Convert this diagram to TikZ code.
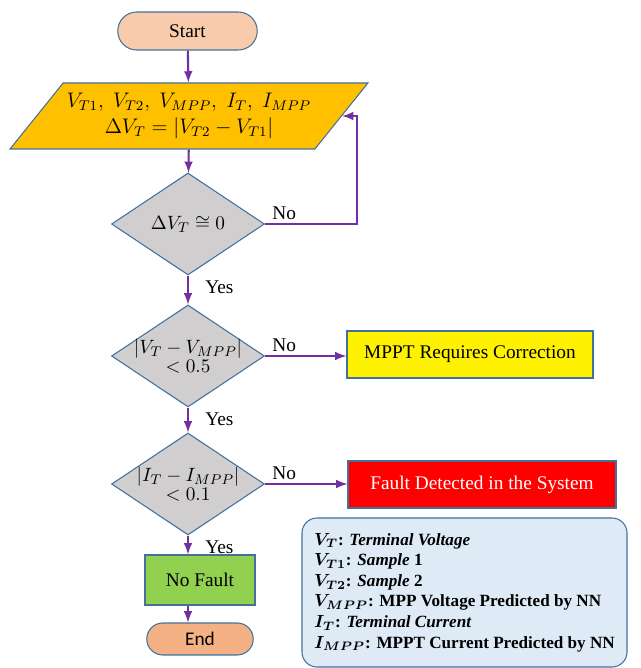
\documentclass[tikz,border=0pt]{standalone}
\usepackage{fontspec}
\setmainfont{Liberation Serif}
\newfontfamily\endfont{Carlito}
\usepackage{tikz}
\usetikzlibrary{positioning}
\usetikzlibrary{arrows,shapes,calc}
\usepackage{xcolor}

\definecolor{edgeblue}{HTML}{41719C}
\definecolor{flowpurple}{HTML}{7030A0}
\definecolor{startfill}{HTML}{F8CBAD}
\definecolor{endfill}{HTML}{F4B183}
\definecolor{inputfill}{HTML}{FFC000}
\definecolor{decfill}{HTML}{D0CECE}
\definecolor{keyfill}{HTML}{DEEBF7}
\definecolor{okgreen}{HTML}{92D050}

\tikzset{
  base/.style={draw=edgeblue, line width=0.6pt, inner sep=1pt, font=\fontsize{11}{13}\selectfont},
  term/.style={base, rounded rectangle, minimum width=2.86cm},
  decision/.style={base, diamond, align=center, inner sep=-3pt, shape aspect=1.5,
    minimum width=3.06cm, minimum height=2.04cm},
  result/.style={base, rectangle, minimum height=0.94cm},
  flow/.style={draw=flowpurple, line width=1.2pt, -latex},
  lbl/.style={inner sep=0pt, font=\fontsize{11}{13}\selectfont}
}

\begin{document}
\begin{tikzpicture}

\useasboundingbox (0,0) rectangle (12.82,13.36);

\node[term, fill=startfill, minimum height=0.76cm] (start) at (3.75,12.74) {Start};

\node[base, trapezium, trapezium left angle=43, trapezium right angle=137,
  trapezium stretches=true, fill=inputfill, align=center,
  minimum width=7.18cm, minimum height=1.32cm,
  font=\fontsize{12}{14.5}\selectfont] (input) at (3.78,11.04)
  {$V_{T1},\; V_{T2},\; V_{MPP},\; I_T,\; I_{MPP}$\\ $\Delta V_T = |V_{T2} - V_{T1}|$};

\node[decision, fill=decfill] (d1) at (3.76,8.88) {$\Delta V_T \cong 0$};
\node[decision, fill=decfill] (d2) at (3.76,6.24) {$|V_T - V_{MPP}|$\\[-2pt] $< 0.5$};
\node[decision, fill=decfill] (d3) at (3.76,3.68) {$|I_T - I_{MPP}|$\\[-2pt] $< 0.1$};

\node[result, fill=yellow, minimum width=4.92cm] (mppt) at (9.40,6.27) {MPPT Requires Correction};
\node[result, fill=red, text=white, minimum width=5.36cm] (fault) at (9.64,3.67) {Fault Detected in the System};
\node[result, fill=okgreen, minimum width=2.2cm, minimum height=1.0cm] (nofault) at (4.00,1.76) {No Fault};
\node[term, fill=endfill, minimum width=2.2cm, minimum height=0.64cm, font=\endfont\fontsize{11}{13}\selectfont] (finish) at (4.00,0.58) {End};

\node[draw=edgeblue, line width=0.6pt, fill=keyfill, rounded corners=0.3cm,
  minimum width=6.5cm, minimum height=2.98cm, align=left,
  font=\bfseries\boldmath\fontsize{9.75}{11.7}\selectfont] (key) at (9.29,1.51)
  {$V_T$: \textit{Terminal Voltage}\\
   $V_{T1}$: \textit{Sample} 1\\
   $V_{T2}$: \textit{Sample} 2\\
   $V_{MPP}$: MPP Voltage Predicted by NN\\
   $I_T$: \textit{Terminal Current}\\
   $I_{MPP}$: MPPT Current Predicted by NN};

% main line
\draw[flow] (start) -- (input);
\draw[flow] (input) -- (d1);
\draw[flow] (d1) -- (d2);
\draw[flow] (d2) -- (d3);
\draw[flow] (d3.south) -- (d3.south |- nofault.north);
\draw[flow] (d3.south |- nofault.south) -- (d3.south |- finish.north);

% branches
\draw[flow] (d1.east) -| ([xshift=0.3cm]input.east) -- (input.east);
\draw[flow] (d2.east) -- (d2.east -| mppt.west);
\draw[flow] (d3.east) -- (d3.east -| fault.west);

\node[lbl, above right=2pt and 4pt of d1.east] (no1) {No};
\node[lbl, above right=2pt and 4pt of d2.east] (no2) {No};
\node[lbl, above right=2pt and 4pt of d3.east] (no3) {No};
\node[lbl, below right=3pt and 0.34cm of d1.south] (yes1) {Yes};
\node[lbl, below right=3pt and 0.34cm of d2.south] (yes2) {Yes};
\node[lbl, below right=3pt and 0.34cm of d3.south] (yes3) {Yes};

\end{tikzpicture}
\end{document}
